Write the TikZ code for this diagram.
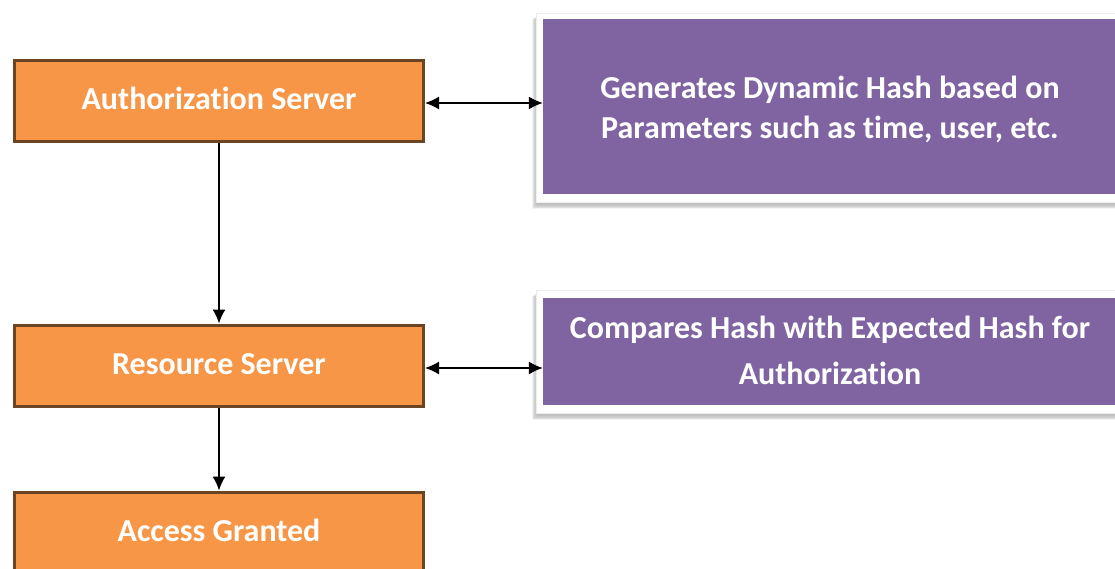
\documentclass[tikz,border=0pt]{standalone}
\usepackage{fontspec}
\setmainfont[Ligatures=NoCommon]{Carlito}
\usetikzlibrary{arrows.meta}
\definecolor{orangefill}{HTML}{F79646}
\definecolor{orangeline}{HTML}{6B4423}
\definecolor{purplefill}{HTML}{8064A2}
\pgfdeclarelayer{bg}
\pgfsetlayers{bg,main}
\begin{document}
\begin{tikzpicture}[x=1pt,y=-1pt,
  orangebox/.style={draw=orangeline, line width=3pt, fill=orangefill, minimum width=409pt, minimum height=81pt, inner sep=0pt, text=white, text height=23pt, text depth=6pt, font=\bfseries\fontsize{32}{36}\selectfont},
  frame/.style={fill=white, draw=black!7, line width=0.5pt, minimum width=588pt, inner sep=0pt},
  purplebox/.style={fill=purplefill, minimum width=574pt, inner sep=0pt},
  purpletext/.style={text=white, align=center, inner sep=0pt},
  link/.style={line width=1.5pt, draw=black},
  tip/.style={-{Latex[length=14pt,width=13pt]}},
  dtip/.style={{Latex[length=14pt,width=13pt]}-{Latex[length=14pt,width=13pt]}}]
\useasboundingbox (0,0) rectangle (1115,569);
\clip (0,0) rectangle (1115,569);
% orange column
\node[orangebox] (auth) at (219,101) {Authorization Server};
\node[orangebox] (res) at (219,365.5) {Resource Server};
\node[orangebox] (acc) at (219,532.5) {Access Granted};
% purple boxes
\node[frame, minimum height=189pt] (genframe) at (830,107.5) {};
\node[purplebox, minimum height=175pt] (gen) at (830,106.5) {};
\node[purpletext, font=\bfseries\fontsize{32}{40}\selectfont] (gentext) at (830,109) {Generates Dynamic Hash based on\\Parameters such as time, user, etc.};
\node[frame, minimum height=123pt] (cmpframe) at (830,351.5) {};
\node[purplebox, minimum height=107pt] (cmp) at (830,351.5) {};
\node[purpletext, font=\bfseries\fontsize{32}{46}\selectfont] (cmptext) at (830,350.5) {Compares Hash with Expected Hash for\\Authorization};
% shadows and background
\begin{pgfonlayer}{bg}
\fill[white] (0,0) rectangle (1115,569);
\foreach \f in {genframe,cmpframe}{
  \foreach \i in {1,...,6}{
    \fill[black, opacity=0.045] ([shift={(-\i*0.7+0.5,\i*0.7+2.5)}]\f.north west) rectangle ([shift={(\i*0.7+0.5,\i*0.7+2.5)}]\f.south east);
  }
}
\end{pgfonlayer}
% connectors
\draw[link, tip] (auth.south) -- (res.north);
\draw[link, tip] (res.south) -- (acc.north);
\draw[link, dtip] ([yshift=-2pt]auth.east) -- ([yshift=-2pt]auth.east -| gen.west);
\draw[link, dtip] ([yshift=-2.5pt]res.east) -- ([yshift=-2.5pt]res.east -| cmp.west);
\end{tikzpicture}
\end{document}
